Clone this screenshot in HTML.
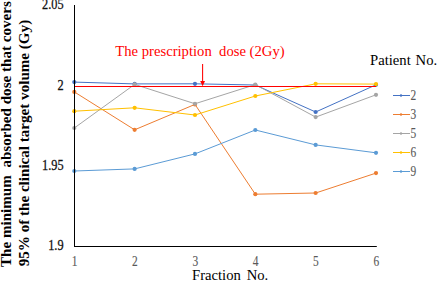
<!DOCTYPE html>
<html><head><meta charset="utf-8"><style>
html,body{margin:0;padding:0;background:#fff;}
body{width:439px;height:281px;overflow:hidden;position:relative;}
svg{position:absolute;left:0;top:0;}
.tky{font-family:"Liberation Serif",serif;font-size:12.7px;fill:#111;stroke:#111;stroke-width:0.25px;}
.tk{font-family:"Liberation Serif",serif;font-size:12.7px;fill:#595959;stroke:#595959;stroke-width:0.1px;}
.tt{font-family:"Liberation Serif",serif;font-size:14.67px;fill:#000;}
.yt{font-family:"Liberation Serif",serif;font-size:15.1px;font-weight:bold;fill:#000;white-space:pre;}
.rd{font-family:"Liberation Serif",serif;font-size:14.67px;fill:#FF0000;white-space:pre;}
</style></head><body>
<svg width="439" height="281" viewBox="0 0 439 281">
<rect width="439" height="281" fill="#fff"/>
<polyline points="74.30,82.10 134.64,83.90 194.98,83.80 255.32,85.00 315.66,112.00 376.00,84.80" fill="none" stroke="#4472C4" stroke-width="1.0" stroke-linejoin="round"/>
<circle cx="74.30" cy="82.10" r="2.1" fill="#4472C4"/>
<circle cx="134.64" cy="83.90" r="2.1" fill="#4472C4"/>
<circle cx="194.98" cy="83.80" r="2.1" fill="#4472C4"/>
<circle cx="255.32" cy="85.00" r="2.1" fill="#4472C4"/>
<circle cx="315.66" cy="112.00" r="2.1" fill="#4472C4"/>
<circle cx="376.00" cy="84.80" r="2.1" fill="#4472C4"/>
<polyline points="74.30,91.90 134.64,129.80 194.98,104.40 255.32,194.20 315.66,193.00 376.00,173.10" fill="none" stroke="#ED7D31" stroke-width="1.0" stroke-linejoin="round"/>
<circle cx="74.30" cy="91.90" r="2.1" fill="#ED7D31"/>
<circle cx="134.64" cy="129.80" r="2.1" fill="#ED7D31"/>
<circle cx="194.98" cy="104.40" r="2.1" fill="#ED7D31"/>
<circle cx="255.32" cy="194.20" r="2.1" fill="#ED7D31"/>
<circle cx="315.66" cy="193.00" r="2.1" fill="#ED7D31"/>
<circle cx="376.00" cy="173.10" r="2.1" fill="#ED7D31"/>
<polyline points="74.30,128.00 134.64,84.40 194.98,103.75 255.32,84.60 315.66,117.10 376.00,94.80" fill="none" stroke="#A5A5A5" stroke-width="1.0" stroke-linejoin="round"/>
<circle cx="74.30" cy="128.00" r="2.1" fill="#A5A5A5"/>
<circle cx="134.64" cy="84.40" r="2.1" fill="#A5A5A5"/>
<circle cx="194.98" cy="103.75" r="2.1" fill="#A5A5A5"/>
<circle cx="255.32" cy="84.60" r="2.1" fill="#A5A5A5"/>
<circle cx="315.66" cy="117.10" r="2.1" fill="#A5A5A5"/>
<circle cx="376.00" cy="94.80" r="2.1" fill="#A5A5A5"/>
<polyline points="74.30,111.20 134.64,107.80 194.98,115.00 255.32,96.00 315.66,83.80 376.00,84.10" fill="none" stroke="#FFC000" stroke-width="1.0" stroke-linejoin="round"/>
<circle cx="74.30" cy="111.20" r="2.1" fill="#FFC000"/>
<circle cx="134.64" cy="107.80" r="2.1" fill="#FFC000"/>
<circle cx="194.98" cy="115.00" r="2.1" fill="#FFC000"/>
<circle cx="255.32" cy="96.00" r="2.1" fill="#FFC000"/>
<circle cx="315.66" cy="83.80" r="2.1" fill="#FFC000"/>
<circle cx="376.00" cy="84.10" r="2.1" fill="#FFC000"/>
<polyline points="74.30,171.00 134.64,168.90 194.98,153.90 255.32,130.00 315.66,144.90 376.00,152.80" fill="none" stroke="#5B9BD5" stroke-width="1.0" stroke-linejoin="round"/>
<circle cx="74.30" cy="171.00" r="2.1" fill="#5B9BD5"/>
<circle cx="134.64" cy="168.90" r="2.1" fill="#5B9BD5"/>
<circle cx="194.98" cy="153.90" r="2.1" fill="#5B9BD5"/>
<circle cx="255.32" cy="130.00" r="2.1" fill="#5B9BD5"/>
<circle cx="315.66" cy="144.90" r="2.1" fill="#5B9BD5"/>
<circle cx="376.00" cy="152.80" r="2.1" fill="#5B9BD5"/>
<line x1="74.5" y1="5" x2="74.5" y2="247" stroke="#000" stroke-width="1"/>
<line x1="74" y1="246.5" x2="376.8" y2="246.5" stroke="#000" stroke-width="1"/>
<line x1="75" y1="86.5" x2="376" y2="86.5" stroke="#FF0000" stroke-width="1.1"/>
<line x1="202.6" y1="64" x2="202.6" y2="82" stroke="#FF0000" stroke-width="1.05"/>
<polygon points="200.2,81 205.0,81 202.6,86.2" fill="#FF0000"/>
<text x="115.3" y="55.6" class="rd" xml:space="preserve">The prescription  dose (2Gy)</text>
<text x="370.0" y="64.6" class="tt">Patient</text>
<text x="415.6" y="64.6" class="tt">No.</text>
<text x="192.0" y="279.5" class="tt">Fraction</text>
<text x="246.7" y="279.5" class="tt">No.</text>
<text transform="translate(63.60,9.40) scale(0.97,1.1)" text-anchor="end" class="tky">2.05</text>
<text transform="translate(63.60,89.60) scale(0.97,1.1)" text-anchor="end" class="tky">2</text>
<text transform="translate(63.60,169.60) scale(0.97,1.1)" text-anchor="end" class="tky">1.95</text>
<text transform="translate(63.60,250.30) scale(0.97,1.1)" text-anchor="end" class="tky">1.9</text>
<text transform="translate(74.60,265.70) scale(0.9,1.1)" text-anchor="middle" class="tk">1</text>
<text transform="translate(134.94,265.70) scale(0.9,1.1)" text-anchor="middle" class="tk">2</text>
<text transform="translate(195.28,265.70) scale(0.9,1.1)" text-anchor="middle" class="tk">3</text>
<text transform="translate(255.62,265.70) scale(0.9,1.1)" text-anchor="middle" class="tk">4</text>
<text transform="translate(315.96,265.70) scale(0.9,1.1)" text-anchor="middle" class="tk">5</text>
<text transform="translate(376.30,265.70) scale(0.9,1.1)" text-anchor="middle" class="tk">6</text>
<line x1="393" y1="95.5" x2="410" y2="95.5" stroke="#4472C4" stroke-width="1"/>
<circle cx="401" cy="95.5" r="1.2" fill="#4472C4"/>
<text transform="translate(410.50,99.60) scale(0.9,1.1)" text-anchor="start" class="tk">2</text>
<line x1="393" y1="114.5" x2="410" y2="114.5" stroke="#ED7D31" stroke-width="1"/>
<circle cx="401" cy="114.5" r="1.2" fill="#ED7D31"/>
<text transform="translate(410.50,118.60) scale(0.9,1.1)" text-anchor="start" class="tk">3</text>
<line x1="393" y1="133.5" x2="410" y2="133.5" stroke="#A5A5A5" stroke-width="1"/>
<circle cx="401" cy="133.5" r="1.2" fill="#A5A5A5"/>
<text transform="translate(410.50,137.60) scale(0.9,1.1)" text-anchor="start" class="tk">5</text>
<line x1="393" y1="152.5" x2="410" y2="152.5" stroke="#FFC000" stroke-width="1"/>
<circle cx="401" cy="152.5" r="1.2" fill="#FFC000"/>
<text transform="translate(410.50,156.60) scale(0.9,1.1)" text-anchor="start" class="tk">6</text>
<line x1="393" y1="171.5" x2="410" y2="171.5" stroke="#5B9BD5" stroke-width="1"/>
<circle cx="401" cy="171.5" r="1.2" fill="#5B9BD5"/>
<text transform="translate(410.50,175.60) scale(0.9,1.1)" text-anchor="start" class="tk">9</text>
<text transform="translate(11.2,267) rotate(-90)" class="yt" xml:space="preserve">The minimum  absorbed dose that covers</text>
<text transform="translate(28.8,266.3) rotate(-90)" class="yt" xml:space="preserve">95% of the clinical target volume (Gy)</text>
</svg>
</body></html>
